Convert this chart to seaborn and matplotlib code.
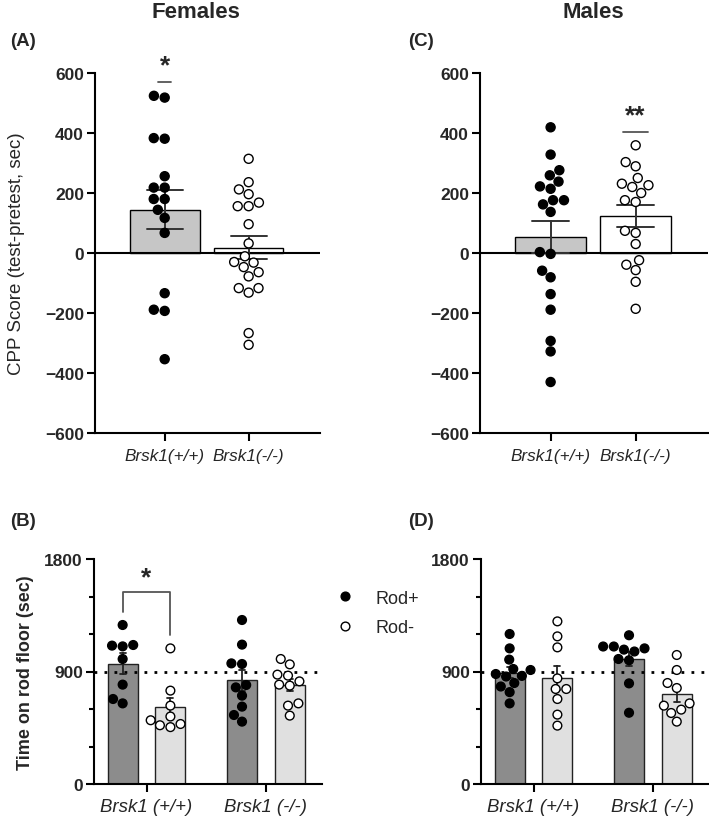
"""
Brsk1 CPP score and rod-floor time, females vs males (4 panels).
"""

import matplotlib
matplotlib.use("Agg")
import matplotlib.pyplot as plt
import numpy as np
import pandas as pd
import seaborn as sns
from matplotlib.ticker import MultipleLocator

sns.set_style("ticks")
plt.rcParams["font.family"] = ["Liberation Sans", "DejaVu Sans"]

# ─────────────────────────────────────────────
# Data
# ─────────────────────────────────────────────

GENOTYPES = ["Brsk1(+/+)", "Brsk1(-/-)"]

# CPP score (test - pretest, sec)
fem_cpp_wt = [518, 524, 381, 383, 256, 218, 218, 180, 180, 144, 117, 67,
              -134, -189, -193, -354]
fem_cpp_ko = [314, 236, 212, 196, 156, 168, 156, 96, 32, -11, -32, -30,
              -47, -64, -78, -117, -117, -132, -267, -306]
male_cpp_wt = [419, 328, 276, 259, 238, 214, 222, 176, 176, 162, 137, -3, 3,
               -59, -81, -137, -189, -293, -328, -430]
male_cpp_ko = [359, 289, 303, 250, 231, 200, 220, 226, 170, 176, 74, 67, 30,
               -24, -39, -57, -96, -186]

GROUPS = ["Brsk1 (+/+)", "Brsk1 (-/-)"]
ROD = ["Rod+", "Rod-"]

# time on rod floor (sec)
fem_rod_wt_plus = [1272, 1101, 1112, 1107, 1000, 795, 645, 680]
fem_rod_wt_minus = [1085, 747, 627, 540, 510, 480, 470, 455]
fem_rod_ko_plus = [1312, 1115, 965, 960, 792, 773, 707, 619, 552, 499]
fem_rod_ko_minus = [1000, 957, 867, 875, 821, 787, 795, 645, 627, 547]

male_rod_wt_plus = [1200, 1085, 995, 920, 912, 880, 865, 860, 808, 780, 735, 645]
male_rod_wt_minus = [1301, 1181, 1093, 845, 760, 760, 680, 555, 467]
male_rod_ko_plus = [1190, 1100, 1100, 1085, 1075, 1060, 1000, 990, 805, 570]
male_rod_ko_minus = [1032, 912, 808, 768, 627, 595, 645, 568, 499]


# ─────────────────────────────────────────────
# Helpers
# ─────────────────────────────────────────────

def cpp_frame(wt, ko):
    return pd.DataFrame({
        "geno": [GENOTYPES[0]] * len(wt) + [GENOTYPES[1]] * len(ko),
        "score": wt + ko,
    })


def rod_frame(wt_p, wt_m, ko_p, ko_m):
    rows = []
    for grp, rod, vals in [(GROUPS[0], ROD[0], wt_p), (GROUPS[0], ROD[1], wt_m),
                           (GROUPS[1], ROD[0], ko_p), (GROUPS[1], ROD[1], ko_m)]:
        rows += [{"group": grp, "rod": rod, "time": v} for v in vals]
    return pd.DataFrame(rows)


def style_axis(ax):
    for side in ["top", "right"]:
        ax.spines[side].set_visible(False)
    for side in ["left", "bottom"]:
        ax.spines[side].set_linewidth(1.5)
        ax.spines[side].set_color("black")
    ax.tick_params(axis="both", which="major", length=6, width=1.5, color="black")
    ax.tick_params(axis="y", labelsize=12.5, pad=2)
    for lab in ax.get_yticklabels():
        lab.set_fontweight("bold")


def cpp_panel(ax, df):
    sns.barplot(data=df, x="geno", y="score", hue="geno", order=GENOTYPES,
                hue_order=GENOTYPES, palette=["#c6c6c6", "white"], width=0.83,
                errorbar="se", capsize=0.43, edgecolor="black", linewidth=1.0,
                err_kws={"color": "#333333", "linewidth": 1.4},
                legend=False, ax=ax)
    sns.swarmplot(data=df, x="geno", y="score", hue="geno", order=GENOTYPES,
                  hue_order=GENOTYPES, palette=["black", "white"],
                  edgecolor="black", linewidth=1.0, size=6.5, legend=False, ax=ax)
    ax.axhline(0, color="black", lw=1.5, zorder=1)
    ax.set_ylim(-600, 600)
    ax.set_xlim(-0.83, 1.85)
    ax.yaxis.set_major_locator(MultipleLocator(200))
    ax.set_xlabel("")
    ax.set_ylabel("")
    style_axis(ax)
    ax.tick_params(axis="x", labelsize=12.3, pad=5)
    for lab in ax.get_xticklabels():
        lab.set_fontstyle("italic")


def rod_panel(ax, df, legend=False):
    sns.barplot(data=df, x="group", y="time", hue="rod", order=GROUPS,
                hue_order=ROD, palette=["#8c8c8c", "#e0e0e0"], width=0.8, gap=0.375,
                errorbar="se", capsize=0.1, edgecolor="#222222", linewidth=1.0,
                err_kws={"color": "#222222", "linewidth": 1.3},
                legend=False, ax=ax)
    sns.swarmplot(data=df, x="group", y="time", hue="rod", order=GROUPS,
                  hue_order=ROD, palette=["black", "white"], dodge=True,
                  edgecolor="black", linewidth=1.0, size=6.3, legend=legend, ax=ax)
    ax.axhline(900, color="black", lw=2, ls=(0, (1, 2.6)), zorder=1)
    ax.set_ylim(0, 1800)
    ax.set_xlim(-0.44, 1.47)
    ax.yaxis.set_major_locator(MultipleLocator(900))
    ax.yaxis.set_minor_locator(MultipleLocator(300))
    ax.tick_params(axis="y", which="minor", length=3.5, width=1.5, color="black")
    ax.set_xlabel("")
    ax.set_ylabel("")
    style_axis(ax)
    ax.tick_params(axis="x", labelsize=13.4, pad=4)
    for lab in ax.get_xticklabels():
        lab.set_fontstyle("italic")


# ─────────────────────────────────────────────
# Figure
# ─────────────────────────────────────────────

W, H = 709, 820
fig = plt.figure(figsize=(W / 100, H / 100), dpi=100)


def px_axes(x0, x1, y0, y1):
    return fig.add_axes([x0 / W, 1 - y1 / H, (x1 - x0) / W, (y1 - y0) / H])


axA = px_axes(95, 320, 74, 434)
axC = px_axes(480, 708, 74, 434)
axB = px_axes(94, 322, 560, 785)
axD = px_axes(481, 709, 560, 785)

cpp_panel(axA, cpp_frame(fem_cpp_wt, fem_cpp_ko))
cpp_panel(axC, cpp_frame(male_cpp_wt, male_cpp_ko))
rod_panel(axB, rod_frame(fem_rod_wt_plus, fem_rod_wt_minus,
                         fem_rod_ko_plus, fem_rod_ko_minus), legend=True)
rod_panel(axD, rod_frame(male_rod_wt_plus, male_rod_wt_minus,
                         male_rod_ko_plus, male_rod_ko_minus))

# y labels (anchor = right edge of the rotated text)
axA.set_ylabel("CPP Score (test-pretest, sec)", fontsize=13.5)
axA.yaxis.set_label_coords(-0.31, 0.5)
axB.set_ylabel("Time on rod floor (sec)", fontsize=13, fontweight="bold")
axB.yaxis.set_label_coords(-0.265, 0.5)

# legend
sns.move_legend(axB, "center left", bbox_to_anchor=(0.95, 0.76), frameon=False,
                title=None, fontsize=13, handletextpad=0.7, labelspacing=0.7,
                markerscale=1.0)

# significance marks
axA.plot([-0.08, 0.08], [570, 570], color="#555555", lw=1.3)
axA.text(0, 585, "*", ha="center", va="bottom", fontsize=19, fontweight="bold")
axC.plot([0.85, 1.15], [405, 405], color="#555555", lw=1.3)
axC.text(1, 420, "**", ha="center", va="bottom", fontsize=19, fontweight="bold")
axB.plot([-0.2, -0.2, 0.2, 0.2], [1379, 1533, 1533, 1192], color="#555555", lw=1.3)
axB.text(0, 1560, "*", ha="center", va="bottom", fontsize=19, fontweight="bold")

# titles and panel letters
fig.text(196 / W, 1 - 12 / H, "Females", ha="center", va="center",
         fontsize=16, fontweight="bold")
fig.text(593 / W, 1 - 12 / H, "Males", ha="center", va="center",
         fontsize=16, fontweight="bold")
for x, y, lab in [(10, 42, "(A)"), (408, 42, "(C)"), (10, 522, "(B)"), (408, 522, "(D)")]:
    fig.text(x / W, 1 - y / H, lab, ha="left", va="center",
             fontsize=13.5, fontweight="bold")

fig.savefig("out.png", dpi=100)
